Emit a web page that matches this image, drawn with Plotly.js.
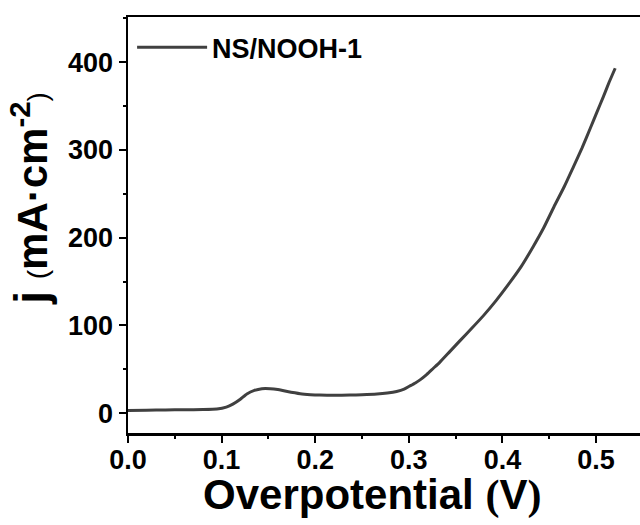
<!DOCTYPE html>
<html>
<head>
<meta charset="utf-8">
<script src="https://cdn.plot.ly/plotly-3.0.1.min.js"></script>
<style>
html,body{margin:0;padding:0;background:#fff;}
#chart{width:640px;height:525px;}
</style>
</head>
<body>
<div id="chart"></div>
<script>
// Data
var seriesName = 'NS/NOOH-1';
var overpotential = [0, 0.02, 0.04, 0.06, 0.08, 0.095, 0.105, 0.112, 0.12, 0.127, 0.135, 0.143, 0.152, 0.16, 0.169, 0.184, 0.195, 0.205, 0.22, 0.237, 0.25, 0.266, 0.277, 0.287, 0.295, 0.301, 0.307, 0.312, 0.319, 0.326, 0.333, 0.344, 0.355, 0.367, 0.38, 0.393, 0.408, 0.42, 0.433, 0.444, 0.455, 0.466, 0.476, 0.485, 0.494, 0.501, 0.508, 0.514, 0.5205];
var currentDensity = [3.0, 3.5, 3.8, 4.0, 4.2, 4.8, 7, 10.4, 16, 22, 26, 28, 28, 27, 25, 22.2, 21.2, 20.7, 20.5, 20.7, 21, 21.8, 23, 24.8, 27.5, 31, 34.5, 38, 44, 51, 58, 70.5, 83, 96.5, 111.5, 128, 149, 167, 190, 211, 235, 258, 281, 302, 325, 343, 361, 377, 393];
var xTickVals = [0, 0.1, 0.2, 0.3, 0.4, 0.5];
var yTickVals = [0, 100, 200, 300, 400];

var FONT = 'Liberation Sans, Arial, sans-serif';

var trace = {
  x: overpotential,
  y: currentDensity,
  type: 'scatter',
  mode: 'lines',
  name: seriesName,
  line: {color: '#404040', width: 3, shape: 'spline', smoothing: 0.5}
};

var layout = {
  width: 640,
  height: 525,
  margin: {l: 128, r: 0, t: 17, b: 92, pad: 0},
  paper_bgcolor: '#ffffff',
  plot_bgcolor: '#ffffff',
  font: {family: FONT, color: '#000', size: 26, weight: 'bold'},
  showlegend: true,
  legend: {
    x: 0.008, y: 0.985, xanchor: 'left', yanchor: 'top',
    bgcolor: 'rgba(0,0,0,0)',
    font: {family: FONT, size: 27, color: '#000', weight: 'bold'},
    itemwidth: 70
  },
  xaxis: {
    range: [0, 0.547],
    tickvals: xTickVals,
    tickformat: '.1f',
    ticks: 'outside', ticklen: 7, tickwidth: 2, tickcolor: '#000',
    ticklabelstandoff: -6,
    minor: {dtick: 0.05, ticks: 'outside', ticklen: 3, tickwidth: 2, tickcolor: '#000'},
    showline: true, linewidth: 2.5, linecolor: '#000', mirror: true,
    showgrid: false, zeroline: false,
    tickfont: {family: FONT, size: 27, color: '#000', weight: 'bold'}
  },
  yaxis: {
    range: [-22.5, 451.4],
    tickvals: yTickVals,
    ticks: 'outside', ticklen: 7, tickwidth: 2, tickcolor: '#000',
    minor: {dtick: 50, ticks: 'outside', ticklen: 3, tickwidth: 2, tickcolor: '#000'},
    showline: true, linewidth: 2.5, linecolor: '#000', mirror: true,
    showgrid: false, zeroline: false,
    tickfont: {family: FONT, size: 27, color: '#000', weight: 'bold'}
  },
  annotations: [
    {
      xref: 'paper', yref: 'paper', x: 0.476, y: -0.15,
      xanchor: 'center', yanchor: 'middle', showarrow: false,
      text: "Overpotential <span style='font-family:Liberation Serif'>(</span>V<span style='font-family:Liberation Serif'>)</span>",
      font: {family: FONT, size: 42, color: '#000', weight: 'bold'}
    },
    {
      xref: 'paper', yref: 'paper', x: -0.19, y: 0.565,
      xanchor: 'center', yanchor: 'middle', showarrow: false, textangle: -90,
      text: "<span style='font-size:46px'>j</span> <span style='font-size:28px;font-weight:normal'>(</span>mA·cm<sup>-2</sup><span style='font-size:28px;font-weight:normal'>)</span>",
      font: {family: FONT, size: 42, color: '#000', weight: 'bold'}
    }
  ]
};

Plotly.newPlot('chart', [trace], layout, {displayModeBar: false, staticPlot: true});
</script>
</body>
</html>
